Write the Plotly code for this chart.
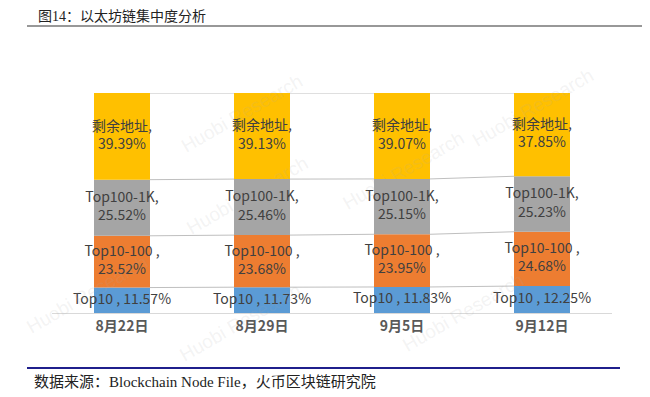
import plotly.graph_objects as go

categories = ["8月22日", "8月29日", "9月5日", "9月12日"]
series_names = ["Top10", "Top10-100", "Top100-1K", "剩余地址"]
label_prefix = ["Top10 , ", "Top10-100 ,<br>", "Top100-1K,<br>", "剩余地址,<br>"]
top10 = [11.57, 11.73, 11.83, 12.25]
top10_100 = [23.52, 23.68, 23.95, 24.68]
top100_1k = [25.52, 25.46, 25.15, 25.23]
rest = [39.39, 39.13, 39.07, 37.85]
colors = ["#5B9BD5", "#ED7D31", "#A5A5A5", "#FFC000"]

values = [top10, top10_100, top100_1k, rest]
xs = list(range(len(categories)))
bar_w = 0.4

# the page adds an 8px body margin; lay out in window pixels and shift
OFF = 8
W, H = 650 - OFF, 397 - OFF
L, R, T, B = 52 - OFF, 38, 93 - OFF, 84
pw, ph = W - L - R, H - T - B


def px(x):
    return (x - OFF - L) / pw


def py(y):
    return (H - B - (y - OFF)) / ph


fig = go.Figure()

cum = [0.0] * len(categories)
bounds = []
for name, vals, col, pre in zip(series_names, values, colors, label_prefix):
    fig.add_trace(go.Bar(x=xs, y=vals, base=cum[:], name=name, marker_color=col,
                         marker_line_width=0, width=bar_w, showlegend=False,
                         hoverinfo="skip"))
    mids = [c + v / 2 for c, v in zip(cum, vals)]
    fig.add_trace(go.Scatter(x=xs, y=mids, mode="text",
                             text=[f"{pre}{v:.2f}%" for v in vals],
                             textposition="middle center",
                             textfont=dict(family="Noto Sans CJK SC", size=14, color="#404040"),
                             cliponaxis=False, showlegend=False, hoverinfo="skip"))
    cum = [c + v for c, v in zip(cum, vals)]
    bounds.append(cum[:])

# series lines connecting stacked segments
for bnd in bounds:
    for i in range(len(xs) - 1):
        fig.add_trace(go.Scatter(x=[xs[i] + bar_w / 2, xs[i + 1] - bar_w / 2],
                                 y=[bnd[i], bnd[i + 1]], mode="lines",
                                 line=dict(color="#BFBFBF", width=1),
                                 showlegend=False, hoverinfo="skip"))

annotations = [
    dict(text="图14：以太坊链集中度分析", x=px(36), y=py(16), xref="paper", yref="paper",
         xanchor="left", yanchor="middle", showarrow=False,
         font=dict(family="Liberation Serif, Noto Sans CJK SC", size=14, color="#222222")),
    dict(text="数据来源：Blockchain Node File，火币区块链研究院", x=px(32), y=py(381),
         xref="paper", yref="paper", xanchor="left", yanchor="middle", showarrow=False,
         font=dict(family="Liberation Serif, Noto Sans CJK SC", size=15, color="#222222")),
]

# faint watermarks
for wx, wy in [(175, 68), (600, 62), (180, 195), (470, 170), (240, 368), (530, 358), (20, 340)]:
    annotations.append(dict(text="Huobi Research", x=px(wx), y=py(wy), xref="paper", yref="paper",
                            showarrow=False, textangle=-30,
                            font=dict(family="Arial, Liberation Sans", size=19,
                                      color="rgba(170,170,170,0.15)")))

shapes = [
    dict(type="line", xref="paper", yref="paper", x0=px(27), x1=px(650), y0=py(26), y1=py(26),
         line=dict(color="#333333", width=1.2)),
    dict(type="line", xref="paper", yref="paper", x0=px(27), x1=px(620), y0=py(368), y1=py(368),
         line=dict(color="#1F1F8C", width=2)),
]

fig.update_layout(
    width=W, height=H,
    margin=dict(l=L, r=R, t=T, b=B),
    paper_bgcolor="white", plot_bgcolor="white",
    barmode="overlay",
    annotations=annotations, shapes=shapes,
    xaxis=dict(range=[-0.5, len(categories) - 0.5], tickvals=xs, ticktext=categories,
               showgrid=False, zeroline=False, showline=True, linecolor="#D9D9D9", linewidth=1,
               ticks="", tickfont=dict(family="Noto Sans CJK SC", size=14, color="#595959",
                                       weight="bold")),
    yaxis=dict(range=[0, 100], showgrid=False, zeroline=False, showticklabels=False,
               showline=False),
)

fig.write_html("out.html")
